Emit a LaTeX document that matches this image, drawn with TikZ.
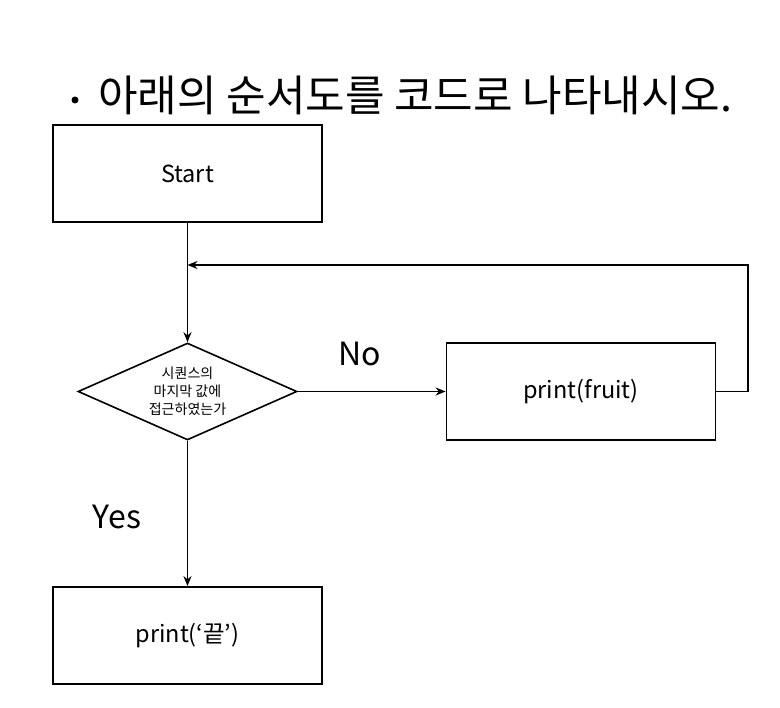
\documentclass[tikz,border=0pt]{standalone}
\usepackage{fontspec}
\setmainfont{Noto Sans CJK KR}
\usetikzlibrary{shapes.geometric,arrows.meta}
\begin{document}
\begin{tikzpicture}[x=1pt,y=-1pt,
  box/.style={draw,line width=1.8pt,minimum width=269pt,minimum height=97pt,inner sep=0pt,font=\fontsize{23.5}{26}\selectfont},
  dia/.style={draw,line width=1.6pt,diamond,minimum width=219pt,minimum height=97pt,inner sep=0pt,aspect=2.26,align=center,font=\fontsize{14}{18}\selectfont},
  conn/.style={line width=1.6pt,-{Stealth[length=10pt,width=8pt]}},
  lbl/.style={font=\fontsize{32}{36}\selectfont}]
\useasboundingbox (0,0) rectangle (780,708);
\fill (75,100) circle (3.5) coordinate (bullet);
\node[font=\fontsize{43}{46}\selectfont,anchor=west,inner sep=0pt] (title) at (98,95) {아래의 순서도를 코드로 나타내시오.};
\node[box] (start) at (187.5,173.5) {Start};
\node[dia] (d) at (187.5,391.5) {시퀀스의\\마지막 값에\\접근하였는가};
\node[box] (pf) at (581,391.5) {print(fruit)};
\node[box] (end) at (187.5,635.5) {print(‘끝’)};
\coordinate (j) at (187.5,265);
\coordinate (c1) at (748,391.5);
\coordinate (c2) at (748,265);
\draw[conn] (start) -- (d);
\draw[conn] (d) -- (pf);
\draw[conn] (d) -- (end);
\draw[conn] (pf.east) -- (c1) -- (c2) -- (j);
\node[lbl] (no) at (360,354) {No};
\node[lbl] (yes) at (117,517) {Yes};
\end{tikzpicture}
\end{document}
